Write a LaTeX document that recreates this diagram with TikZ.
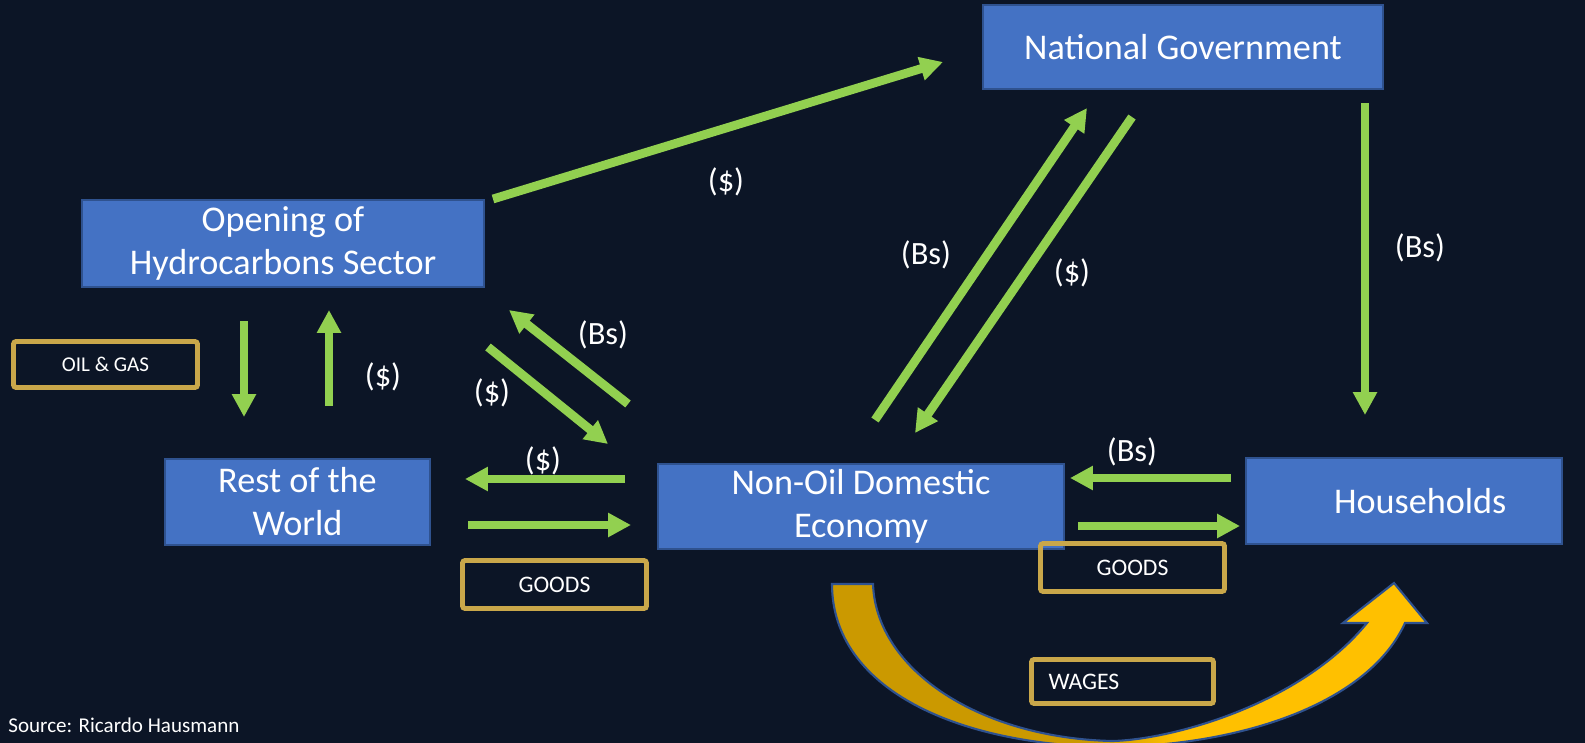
\documentclass[tikz,border=0pt]{standalone}
\usepackage{fontspec}
\setmainfont{Carlito}
\usetikzlibrary{arrows.meta}
\definecolor{bg}{RGB}{12,21,38}
\definecolor{boxfill}{RGB}{68,114,196}
\definecolor{boxline}{RGB}{47,82,143}
\definecolor{grn}{RGB}{146,208,80}
\definecolor{goldline}{RGB}{201,167,74}
\definecolor{wagedark}{RGB}{203,153,0}
\definecolor{wagelight}{RGB}{255,192,0}
\pgfdeclarehorizontalshading{wageshade}{100bp}{color(0bp)=(wagedark); color(47bp)=(wagedark); color(54bp)=(wagelight); color(100bp)=(wagelight)}
\begin{document}
\begin{tikzpicture}[x=0.02cm,y=-0.02cm,
  entity/.style={draw=boxline, line width=1pt, fill=boxfill, text=white, font=\fontsize{20.6}{24.5}\selectfont, align=center, inner sep=0pt},
  tag/.style={draw=goldline, line width=2.8pt, rounded corners=1.5pt, text=white, inner sep=0pt},
  flow/.style={draw=grn, line width=5pt, -{Triangle[width=13pt,length=13pt]}},
  lbl/.style={text=white, font=\fontsize{18.5}{22}\selectfont, inner sep=0pt},
]
\fill[bg] (0,0) rectangle (1585,743);
\useasboundingbox (0,0) rectangle (1585,743);

% main boxes
\node[entity, minimum width=8cm, minimum height=1.68cm] (gov) at (1183,47) {National Government};
\node[entity, minimum width=8.04cm, minimum height=1.74cm] (hydro) at (283,243.5) {Opening of\\Hydrocarbons Sector};
\node[entity, minimum width=5.3cm, minimum height=1.72cm] (row) at (297.5,502) {Rest of the\\World};
\node[entity, minimum width=8.12cm, minimum height=1.7cm] (dom) at (861,506.5) {Non-Oil Domestic\\Economy};
\node[entity, minimum width=6.32cm, minimum height=1.72cm] (hh) at (1404,501) {\hspace*{0.65cm}Households};

% gold tags
\node[tag, minimum width=3.68cm, minimum height=0.92cm, font=\fontsize{12}{14}\selectfont] (oil) at (105.5,364.5) {OIL \& GAS};
\node[tag, minimum width=3.68cm, minimum height=0.96cm, font=\fontsize{13.5}{16}\selectfont] (goodsL) at (554.5,584.5) {GOODS};
\node[tag, minimum width=3.68cm, minimum height=0.96cm, font=\fontsize{13.5}{16}\selectfont] (goodsR) at (1132.5,567.5) {GOODS};

% wages arrow
\shade[draw=boxline, line width=1.2pt, shading=wageshade]
 (832,584) .. controls (832,690) and (960,746) .. (1112,747)
 .. controls (1250,745) and (1370,700) .. (1405,623)
 -- (1427,623) -- (1394,583) -- (1343,623) -- (1367,623)
 .. controls (1300,705) and (1170,740) .. (1112,741)
 .. controls (980,738) and (876,670) .. (873,584) -- cycle;
\node[tag, minimum width=3.64cm, minimum height=0.88cm, font=\fontsize{13.5}{16}\selectfont, inner xsep=0.34cm, text width=2.96cm, align=left] (wages) at (1122.5,681.5) {WAGES};

% connector end points
\coordinate (h1) at (493,199);   \coordinate (g1) at (943,62);
\coordinate (d1) at (875,420);   \coordinate (g2) at (1087,108);
\coordinate (g3) at (1132,117);  \coordinate (d2) at (915,433);
\coordinate (g4) at (1365,103);  \coordinate (hh1) at (1365,415);
\coordinate (h2) at (244,321);   \coordinate (r1) at (244,417);
\coordinate (r2) at (329,406);   \coordinate (h3) at (329,310);
\coordinate (d3) at (628,404);   \coordinate (h4) at (509,310);
\coordinate (h5) at (488,347);   \coordinate (d4) at (608,444);
\coordinate (d5) at (625,479);   \coordinate (r3) at (465,479);
\coordinate (r4) at (468,525);   \coordinate (d6) at (631,525);
\coordinate (hh2) at (1231,478); \coordinate (d7) at (1070,478);
\coordinate (d8) at (1078,526);  \coordinate (hh3) at (1240,526);

% green flows
\draw[flow] (h1) -- (g1);
\draw[flow] (d1) -- (g2);
\draw[flow] (g3) -- (d2);
\draw[flow] (g4) -- (hh1);
\draw[flow] (h2) -- (r1);
\draw[flow] (r2) -- (h3);
\draw[flow] (d3) -- (h4);
\draw[flow] (h5) -- (d4);
\draw[flow] (d5) -- (r3);
\draw[flow] (r4) -- (d6);
\draw[flow] (hh2) -- (d7);
\draw[flow] (d8) -- (hh3);

% labels
\node[lbl] (l1) at (726,182) {(\$)};
\node[lbl] (l2) at (926,255) {(Bs)};
\node[lbl] (l3) at (1072,273) {(\$)};
\node[lbl] (l4) at (1420,248) {(Bs)};
\node[lbl] (l5) at (383,377) {(\$)};
\node[lbl] (l6) at (603,335) {(Bs)};
\node[lbl] (l7) at (492,393) {(\$)};
\node[lbl] (l8) at (543,461) {(\$)};
\node[lbl] (l9) at (1132,452) {(Bs)};

\node[anchor=west, text=white, font=\fontsize{12}{14}\selectfont, inner sep=0pt] (src) at (8,725) {Source: Ricardo Hausmann};
\end{tikzpicture}
\end{document}
